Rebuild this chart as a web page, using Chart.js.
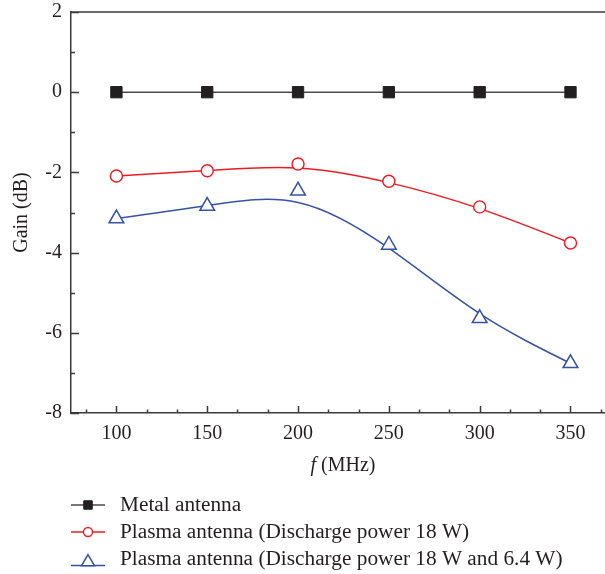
<!DOCTYPE html>
<html lang="en">
<head>
<meta charset="UTF-8">
<title>Gain vs frequency</title>
<style>
    body { margin: 0; background: #fff; }
    #wrap { width: 605px; height: 574px; position: relative; }
</style>
</head>
<body>
<div id="wrap"><canvas id="gain-chart"></canvas></div>

<script src="https://cdn.jsdelivr.net/npm/chart.js@4"></script>
<script>
// frequency points (MHz)
const freqs = [100, 150, 200, 250, 300, 350];
// measured gain (dB)
const metalGain = [0, 0, 0, 0, 0, 0];
const plasma18Gain = [-2.09, -1.96, -1.79, -2.22, -2.86, -3.76];
const plasmaDualGain = [-3.15, -2.84, -2.46, -3.81, -5.64, -6.76];
const seriesNames = [
    'Metal antenna',
    'Plasma antenna (Discharge power 18 W)',
    'Plasma antenna (Discharge power 18 W and 6.4 W)'
];
// labelled ticks
const xTicks = [100, 150, 200, 250, 300, 350];
const yTicks = [-8, -6, -4, -2, 0, 2];

const FONT = '"Liberation Serif", "Times New Roman", serif';
const AXIS = '#3a3a3a';
const TEXT = '#231f20';
const RED = '#ed1c24';
const BLUE = '#3652a5';

function toPoints(ys) {
    return freqs.map((f, i) => ({ x: f, y: ys[i] }));
}

// Origin style B-spline: data points act as control points,
// phantom points at the ends make it start/stop on the data
const bsplinePlugin = {
    id: 'bspline',
    beforeDatasetsDraw(chart) {
        const ctx = chart.ctx;
        chart.data.datasets.forEach((ds, i) => {
            if (!ds.bspline) return;
            const p = chart.getDatasetMeta(i).data.map(el => ({ x: el.x, y: el.y }));
            const n = p.length;
            const q = [
                { x: 2 * p[0].x - p[1].x, y: 2 * p[0].y - p[1].y },
                ...p,
                { x: 2 * p[n - 1].x - p[n - 2].x, y: 2 * p[n - 1].y - p[n - 2].y }
            ];
            ctx.save();
            ctx.beginPath();
            for (let k = 0; k + 3 < q.length; k++) {
                const a = q[k], b = q[k + 1], c = q[k + 2], d = q[k + 3];
                if (k === 0) ctx.moveTo((a.x + 4 * b.x + c.x) / 6, (a.y + 4 * b.y + c.y) / 6);
                ctx.bezierCurveTo(
                    (2 * b.x + c.x) / 3, (2 * b.y + c.y) / 3,
                    (b.x + 2 * c.x) / 3, (b.y + 2 * c.y) / 3,
                    (b.x + 4 * c.x + d.x) / 6, (b.y + 4 * c.y + d.y) / 6
                );
            }
            ctx.strokeStyle = ds.borderColor;
            ctx.lineWidth = ds.borderWidth;
            ctx.stroke();
            ctx.restore();
        });
    }
};

// inward major/minor ticks, top frame line, x title and the legend
function tickValues(majors, parts, min, max) {
    const step = (majors[1] - majors[0]) / parts;
    let v = majors[0] - Math.floor((majors[0] - min) / step + 1e-9) * step;
    const out = [];
    for (; v <= max + 1e-9; v += step) {
        const idx = Math.round((v - majors[0]) / step);
        out.push({ v, major: ((idx % parts) + parts) % parts === 0 });
    }
    return out;
}

const decorPlugin = {
    id: 'decor',
    afterDatasetsDraw(chart) {
        const { ctx, chartArea: ca, scales: { x, y } } = chart;
        ctx.save();
        ctx.strokeStyle = AXIS;
        ctx.lineWidth = 1.5;
        ctx.beginPath();
        ctx.moveTo(ca.left, ca.top);
        ctx.lineTo(ca.right, ca.top);
        tickValues(xTicks, 3, x.min, x.max).forEach(t => {
            const px = Math.round(x.getPixelForValue(t.v)) + 0.5;
            ctx.moveTo(px, ca.bottom);
            ctx.lineTo(px, ca.bottom - (t.major ? 7 : 3.5));
        });
        tickValues(yTicks, 2, y.min, y.max).forEach(t => {
            const py = Math.round(y.getPixelForValue(t.v)) + 0.5;
            ctx.moveTo(ca.left, py);
            ctx.lineTo(ca.left + (t.major ? 8 : 4), py);
        });
        ctx.stroke();
        ctx.restore();
    },
    afterDraw(chart) {
        const ctx = chart.ctx;
        ctx.save();
        ctx.fillStyle = TEXT;
        ctx.textBaseline = 'middle';

        // x axis title, italic f
        const italic = 'italic 20px ' + FONT;
        const normal = '20px ' + FONT;
        ctx.font = italic;
        const wf = ctx.measureText('f').width;
        ctx.font = normal;
        const wr = ctx.measureText(' (MHz)').width;
        const startX = 343 - (wf + wr) / 2;
        ctx.font = italic;
        ctx.fillText('f', startX, 466);
        ctx.font = normal;
        ctx.fillText(' (MHz)', startX + wf, 466);

        // legend rows
        chart.data.datasets.forEach((ds, i) => {
            const rowY = 505 + i * 27;
            const shift = ds.pointStyle === 'triangle' ? 3 : 0;
            const lineY = ds.pointStyle === 'triangle' ? rowY + 6.5 : rowY;
            ctx.strokeStyle = ds.borderColor;
            ctx.lineWidth = 1.5;
            ctx.beginPath();
            ctx.moveTo(71, lineY);
            ctx.lineTo(105, lineY);
            ctx.stroke();
            ctx.fillStyle = ds.pointBackgroundColor;
            ctx.strokeStyle = ds.pointBorderColor || ds.borderColor;
            ctx.lineWidth = ds.pointBorderWidth;
            Chart.helpers.drawPoint(ctx, {
                pointStyle: ds.pointStyle,
                radius: ds.legendRadius,
                borderWidth: ds.pointBorderWidth,
                rotation: 0
            }, 88, rowY + shift);
            ctx.fillStyle = TEXT;
            ctx.font = '21.3px ' + FONT;
            ctx.fillText(ds.label, 120, rowY);
        });
        ctx.restore();
    }
};

const tickFont = { family: FONT, size: 20 };

// fixed axis sizes, no label overhang padding
function fixX(s) {
    s.height = 161;
    s.paddingLeft = s.paddingRight = 0;
}
function fixY(s) {
    s.width = 71;
    s.paddingTop = s.paddingBottom = 0;
}

new Chart(document.getElementById('gain-chart'), {
    type: 'scatter',
    data: {
        datasets: [{
            label: seriesNames[0],
            data: toPoints(metalGain),
            showLine: true,
            borderColor: '#4a4a4a',
            borderWidth: 1.5,
            pointStyle: 'rect',
            pointRadius: 8,
            pointBackgroundColor: TEXT,
            pointBorderColor: TEXT,
            pointBorderWidth: 1,
            legendRadius: 6
        }, {
            label: seriesNames[1],
            data: toPoints(plasma18Gain),
            showLine: false,
            bspline: true,
            borderColor: RED,
            borderWidth: 1.5,
            pointStyle: 'circle',
            pointRadius: 6,
            pointBackgroundColor: '#ffffff',
            pointBorderColor: RED,
            pointBorderWidth: 1.4,
            legendRadius: 4.5
        }, {
            label: seriesNames[2],
            data: toPoints(plasmaDualGain),
            showLine: false,
            bspline: true,
            borderColor: BLUE,
            borderWidth: 1.5,
            pointStyle: 'triangle',
            pointRadius: 8.5,
            pointBackgroundColor: '#ffffff',
            pointBorderColor: BLUE,
            pointBorderWidth: 1.5,
            legendRadius: 7.5
        }]
    },
    options: {
        responsive: true,
        maintainAspectRatio: false,
        animation: false,
        layout: { autoPadding: false, padding: { top: 12, right: 0, bottom: 0, left: 0 } },
        plugins: {
            legend: { display: false },
            tooltip: { enabled: false }
        },
        scales: {
            x: {
                type: 'linear',
                min: 75,
                max: 369,
                afterBuildTicks: s => { s.ticks = xTicks.map(v => ({ value: v })); },
                afterFit: fixX,
                grid: { drawOnChartArea: false, drawTicks: false },
                border: { color: AXIS, width: 1.5 },
                ticks: { font: tickFont, color: TEXT, padding: 9, maxRotation: 0 }
            },
            y: {
                min: -8,
                max: 2,
                afterBuildTicks: s => { s.ticks = yTicks.map(v => ({ value: v })); },
                afterFit: fixY,
                grid: { drawOnChartArea: false, drawTicks: false },
                border: { color: AXIS, width: 1.5 },
                ticks: { font: tickFont, color: TEXT, padding: 9 },
                title: {
                    display: true,
                    text: 'Gain (dB)',
                    font: { family: FONT, size: 20 },
                    color: TEXT,
                    padding: { top: 10, bottom: 0 }
                }
            }
        }
    },
    plugins: [bsplinePlugin, decorPlugin]
});
</script>
</body>
</html>
